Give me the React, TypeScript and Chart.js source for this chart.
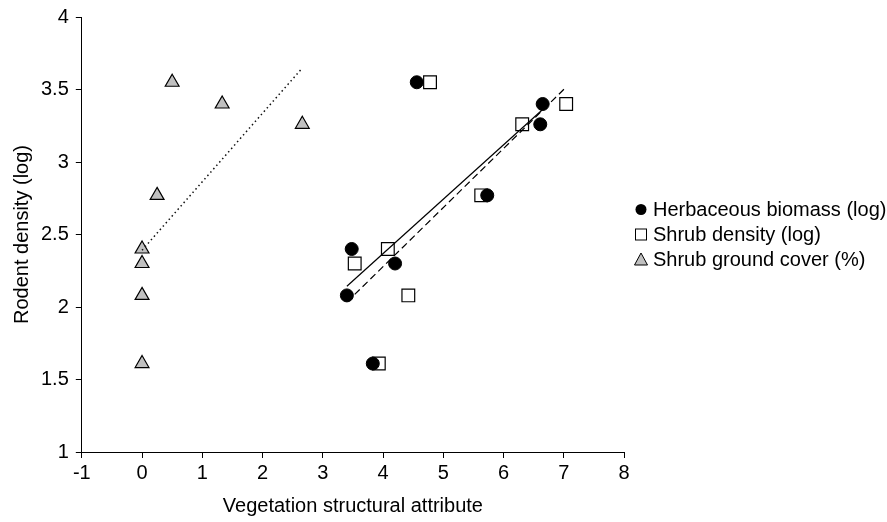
import React, { useEffect, useRef } from "react";
import { Chart, registerables } from "chart.js";

Chart.register(...registerables);

// Rodent density (log) at the eight sites (shared y values)
const rodentDensity = [3.55, 3.4, 3.26, 2.77, 2.4, 2.3, 2.08, 1.61];
// Vegetation structural attributes (x values) for the same sites
const herbaceousBiomass = [4.56, 6.65, 6.61, 5.73, 3.48, 4.2, 3.4, 3.83];
const shrubDensity = [4.78, 7.04, 6.31, 5.63, 4.08, 3.53, 4.42, 3.93];
const shrubCover = [0.5, 1.33, 2.66, 0.25, 0, 0, 0, 0];

const seriesLabels = [
  "Herbaceous biomass (log)",
  "Shrub density (log)",
  "Shrub ground cover (%)",
];

const xTicks = [-1, 0, 1, 2, 3, 4, 5, 6, 7, 8];
const yTicks = [1, 1.5, 2, 2.5, 3, 3.5, 4];

const FONT = "'Liberation Sans', Arial, Helvetica, sans-serif";

function toPoints(xs: number[], ys: number[]) {
  return xs.map((x, i) => ({ x, y: ys[i] }));
}

function linearFit(xs: number[], ys: number[]) {
  const n = xs.length;
  const mx = xs.reduce((a, b) => a + b, 0) / n;
  const my = ys.reduce((a, b) => a + b, 0) / n;
  let sxy = 0;
  let sxx = 0;
  for (let i = 0; i < n; i++) {
    sxy += (xs[i] - mx) * (ys[i] - my);
    sxx += (xs[i] - mx) * (xs[i] - mx);
  }
  const slope = sxy / sxx;
  const icpt = my - slope * mx;
  const x0 = Math.min(...xs);
  const x1 = Math.max(...xs);
  return [
    { x: x0, y: icpt + slope * x0 },
    { x: x1, y: icpt + slope * x1 },
  ];
}

const sideLegend = {
  id: "sideLegend",
  afterDraw(chart: any) {
    const { ctx, chartArea } = chart;
    const cy = (chartArea.top + chartArea.bottom) / 2;
    const mx = chartArea.right + 17;
    const tx = chartArea.right + 29;
    ctx.save();
    ctx.font = `20px ${FONT}`;
    ctx.textBaseline = "middle";
    ctx.textAlign = "left";
    seriesLabels.forEach((label, i) => {
      const y = cy + (i - 1) * 25;
      ctx.lineWidth = 1;
      ctx.strokeStyle = "#000";
      if (i === 0) {
        ctx.beginPath();
        ctx.arc(mx, y, 5.5, 0, Math.PI * 2);
        ctx.fillStyle = "#000";
        ctx.fill();
      } else if (i === 1) {
        ctx.fillStyle = "#fff";
        ctx.fillRect(mx - 6, y - 6, 12, 12);
        ctx.strokeRect(mx - 5.5, y - 5.5, 11, 11);
      } else {
        ctx.beginPath();
        ctx.moveTo(mx, y - 6.5);
        ctx.lineTo(mx + 6.5, y + 5.5);
        ctx.lineTo(mx - 6.5, y + 5.5);
        ctx.closePath();
        ctx.fillStyle = "#c0c0c0";
        ctx.fill();
        ctx.stroke();
      }
      ctx.fillStyle = "#000";
      ctx.fillText(label, tx, y + 1);
    });
    ctx.restore();
  },
};

export default function App() {
  const canvasRef = useRef<HTMLCanvasElement | null>(null);

  useEffect(() => {
    const canvas = canvasRef.current;
    if (!canvas) return;
    const chart = new Chart(canvas, {
      type: "scatter",
      data: {
        datasets: [
          {
            label: "trend herb",
            data: linearFit(herbaceousBiomass, rodentDensity),
            showLine: true,
            borderColor: "#000",
            borderWidth: 1.2,
            pointRadius: 0,
            order: 0,
          },
          {
            label: "trend shrub density",
            data: linearFit(shrubDensity, rodentDensity),
            showLine: true,
            borderColor: "#000",
            borderWidth: 1.2,
            borderDash: [7, 4],
            pointRadius: 0,
            order: 0,
          },
          {
            label: "trend shrub cover",
            data: linearFit(shrubCover, rodentDensity),
            showLine: true,
            borderColor: "#111",
            borderWidth: 1.5,
            borderDash: [1.5, 3],
            pointRadius: 0,
            order: 0,
          },
          {
            label: seriesLabels[0],
            data: toPoints(herbaceousBiomass, rodentDensity),
            pointStyle: "circle",
            pointRadius: 6.5,
            backgroundColor: "#000",
            borderColor: "#000",
            borderWidth: 1,
            order: 1,
          },
          {
            label: seriesLabels[1],
            data: toPoints(shrubDensity, rodentDensity),
            pointStyle: "rect",
            pointRadius: 9,
            backgroundColor: "#fff",
            borderColor: "#000",
            borderWidth: 1.2,
            order: 2,
          },
          {
            label: seriesLabels[2],
            data: toPoints(shrubCover, rodentDensity),
            pointStyle: "triangle",
            pointRadius: 8,
            backgroundColor: "#c0c0c0",
            borderColor: "#000",
            borderWidth: 1.2,
            order: 3,
          },
        ],
      },
      options: {
        responsive: false,
        animation: false,
        devicePixelRatio: 1,
        layout: { padding: { top: 7, right: 263, bottom: 0, left: 0 } },
        plugins: {
          legend: { display: false },
          tooltip: { enabled: false },
        },
        scales: {
          x: {
            type: "linear",
            min: xTicks[0],
            max: xTicks[xTicks.length - 1],
            afterBuildTicks: (scale: any) => {
              scale.ticks = xTicks.map((v) => ({ value: v }));
            },
            ticks: {
              color: "#000",
              font: { family: FONT, size: 20 },
              padding: 3,
              callback: (v: any) => String(v),
              maxRotation: 0,
            },
            grid: {
              drawOnChartArea: false,
              drawTicks: true,
              tickLength: 6,
              color: "#000",
            },
            border: { display: true, color: "#000", width: 1 },
            title: {
              display: true,
              text: "Vegetation structural attribute",
              color: "#000",
              font: { family: FONT, size: 20 },
              padding: { top: 6, bottom: 4 },
            },
          },
          y: {
            type: "linear",
            min: yTicks[0],
            max: yTicks[yTicks.length - 1],
            afterBuildTicks: (scale: any) => {
              scale.ticks = yTicks.map((v) => ({ value: v }));
            },
            ticks: {
              color: "#000",
              font: { family: FONT, size: 20, lineHeight: 1 },
              padding: 7,
              callback: (v: any) => String(v),
            },
            grid: {
              drawOnChartArea: false,
              drawTicks: true,
              tickLength: 6,
              color: "#000",
            },
            border: { display: true, color: "#000", width: 1 },
            title: {
              display: true,
              text: "Rodent density (log)",
              color: "#000",
              font: { family: FONT, size: 20 },
              padding: { top: 10, bottom: 0 },
            },
          },
        },
      },
      plugins: [sideLegend],
    });
    return () => chart.destroy();
  }, []);

  return (
    <canvas
      ref={canvasRef}
      width={887}
      height={522}
      style={{ position: "fixed", left: 0, top: 0, width: 887, height: 522 }}
    />
  );
}
